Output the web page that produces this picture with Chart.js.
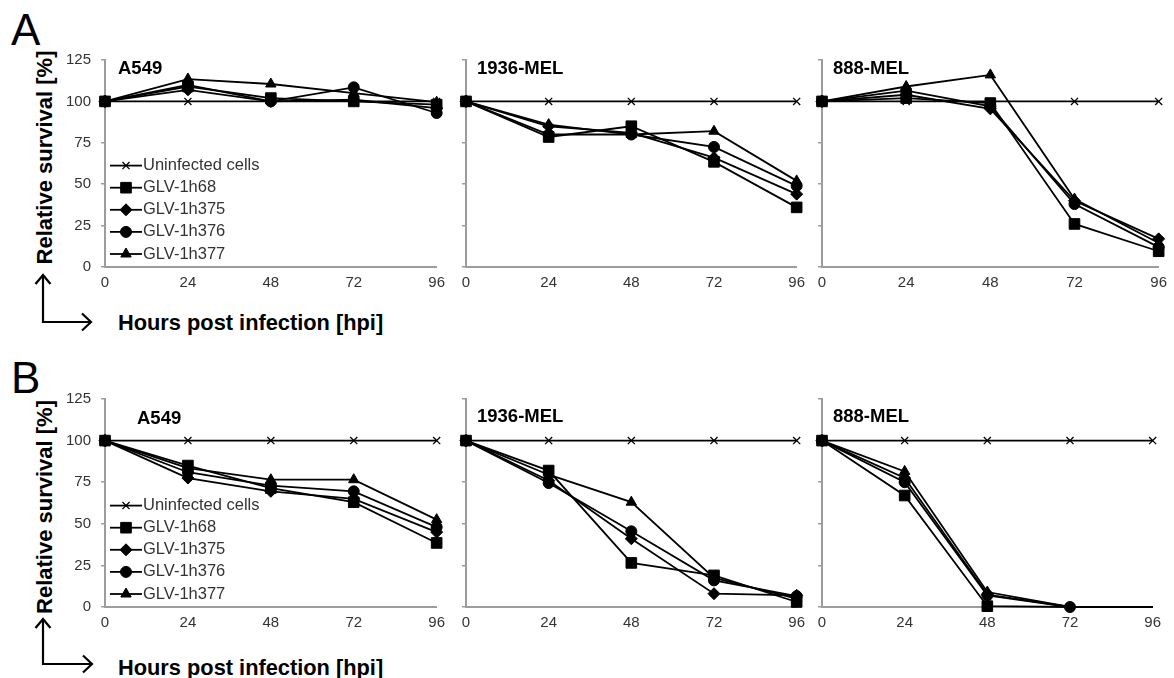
<!DOCTYPE html>
<html>
<head>
<meta charset="utf-8">
<script src="https://cdn.jsdelivr.net/npm/chart.js@4.4.1/dist/chart.umd.min.js"></script>
<style>
  html, body { margin: 0; padding: 0; background: #fff; }
  #figure { position: relative; width: 1174px; height: 678px; overflow: hidden; }
  #figure canvas { position: absolute; }
  #overlay { position: absolute; left: 0; top: 0; }
</style>
</head>
<body>
<div id="figure">
  <svg id="overlay" width="1174" height="678" font-family="'Liberation Sans', Arial, sans-serif">
    <text x="11" y="45" font-size="44">A</text>
    <text x="11" y="393" font-size="44">B</text>
    <text transform="translate(52,157.5) rotate(-90)" text-anchor="middle" font-size="22" font-weight="bold">Relative survival [%]</text>
    <text transform="translate(52,507) rotate(-90)" text-anchor="middle" font-size="22" font-weight="bold">Relative survival [%]</text>
    <text x="118" y="330" font-size="21.8" font-weight="bold">Hours post infection [hpi]</text>
    <text x="118" y="675" font-size="21.8" font-weight="bold">Hours post infection [hpi]</text>
    <g fill="none" stroke="#000" stroke-width="2.2">
      <path d="M43 276 V322 H90"/>
      <path d="M35.5 284 L43 275 L50.5 284"/>
      <path d="M82 313.5 L91 322 L82 330.5"/>
      <path d="M43 620 V664 H91"/>
      <path d="M35.5 628 L43 619 L50.5 628"/>
      <path d="M83 655.5 L92 664 L83 672.5"/>
    </g>
  </svg>
</div>
<script>
// time points and series
const hours = [0, 24, 48, 72, 96];
const seriesNames = ['Uninfected cells', 'GLV-1h68', 'GLV-1h375', 'GLV-1h376', 'GLV-1h377'];
const cellLines = ['A549', '1936-MEL', '888-MEL'];
const yTicks = [0, 25, 50, 75, 100, 125];

// figure A (one row per series, same order as seriesNames)
const a549A = [
  [100, 100, 100, 100, 100],
  [100, 109, 102, 100, 98],
  [100, 107, 100, 101, 96],
  [100, 110, 100, 108.5, 93],
  [100, 113.5, 110.5, 105, 99.5],
];
const mel1936A = [
  [100, 100, 100, 100, 100],
  [100, 78.5, 85, 63.5, 36],
  [100, 85, 81, 66, 44],
  [100, 80, 80, 72.5, 49],
  [100, 86, 80, 82, 52],
];
const mel888A = [
  [100, 100, 100, 100, 100],
  [100, 102, 99, 26, 9.5],
  [100, 104, 95.5, 40, 17],
  [100, 106.5, 97, 38, 12],
  [100, 109, 116, 41, 14.5],
];

// figure B
const a549B = [
  [100, 100, 100, 100, 100],
  [100, 85, 71.5, 63, 38.5],
  [100, 77.5, 69.5, 65, 45],
  [100, 81, 73, 69.5, 48],
  [100, 83.5, 76.5, 76.5, 52.5],
];
const mel1936B = [
  [100, 100, 100, 100, 100],
  [100, 82, 26.5, 19, 3],
  [100, 76, 41, 8, 7],
  [100, 74.5, 45.5, 16, 6.5],
  [100, 79.5, 63, 17.5, 5],
];
const mel888B = [
  [100, 100, 100, 100, 100],
  [100, 67, 0.5, 0, 0],
  [100, 77.5, 7.5, 0, 0],
  [100, 75, 7, 0, 0],
  [100, 81.5, 9, 0, 0],
];

const FONT = "'Liberation Sans', Arial, sans-serif";
const axisGray = '#9c9c9c';
const textGray = '#333';

Chart.defaults.font.family = FONT;
Chart.defaults.font.size = 15;
Chart.defaults.color = textGray;

const markers = [
  { style: 'crossRot', radius: 5, border: 1.3 },
  { style: 'rect', radius: 7.5, border: 1 },
  { style: 'rectRot', radius: 6, border: 1 },
  { style: 'circle', radius: 5.5, border: 1 },
  { style: 'triangle', radius: 6, border: 1 },
];

// frame of each panel on the page (plot area edges)
const panels = [
  { values: a549A, title: cellLines[0], left: 105, right: 439, top: 53, bottom: 267, labels: true, legend: true, titleDx: 13, titleDy: 9, padRight: 13 },
  { values: mel1936A, title: cellLines[1], left: 466, right: 799, top: 53, bottom: 267, titleDx: 11, titleDy: 9, padRight: 13 },
  { values: mel888A, title: cellLines[2], left: 822, right: 1164, top: 53, bottom: 267, titleDx: 11, titleDy: 9, padRight: 10 },
  { values: a549B, title: cellLines[0], left: 105, right: 439, top: 392, bottom: 607, labels: true, legend: true, titleDx: 32, titleDy: 20, padRight: 13 },
  { values: mel1936B, title: cellLines[1], left: 466, right: 799, top: 392, bottom: 607, titleDx: 11, titleDy: 18, padRight: 13 },
  { values: mel888B, title: cellLines[2], left: 822, right: 1156, top: 392, bottom: 607, titleDx: 11, titleDy: 18, padRight: 12,
    bare: [[1, 3], [2, 3], [4, 3], [1, 4], [2, 4], [3, 4], [4, 4]] },
];

const panelTitle = {
  id: 'panelTitle',
  afterDraw(chart, args, opts) {
    const { ctx, chartArea } = chart;
    ctx.save();
    ctx.font = 'bold 18.5px ' + FONT;
    ctx.fillStyle = '#000';
    ctx.textBaseline = 'middle';
    ctx.fillText(opts.text, chartArea.left + opts.dx, chartArea.top + opts.dy);
    ctx.restore();
  }
};

const insideLegend = {
  id: 'insideLegend',
  afterDatasetsDraw(chart, args, opts) {
    if (!opts.show) return;
    const { ctx, chartArea } = chart;
    const n = chart.data.datasets.length;
    ctx.save();
    chart.data.datasets.forEach((ds, i) => {
      const y = chartArea.bottom - 13 - 22.1 * (n - 1 - i);
      const x0 = chartArea.left + 5;
      const x1 = chartArea.left + 37;
      ctx.strokeStyle = '#000';
      ctx.lineWidth = 1.8;
      ctx.beginPath();
      ctx.moveTo(x0, y);
      ctx.lineTo(x1, y);
      ctx.stroke();
      const m = markers[i];
      ctx.fillStyle = '#000';
      ctx.lineWidth = m.border;
      Chart.helpers.drawPoint(ctx, { pointStyle: m.style, radius: m.radius, borderWidth: m.border, rotation: 0 }, (x0 + x1) / 2, y);
      ctx.font = '16.5px ' + FONT;
      ctx.fillStyle = textGray;
      ctx.textBaseline = 'middle';
      ctx.fillText(ds.label, x1 + 1, y);
    });
    ctx.restore();
  }
};

const fig = document.getElementById('figure');
const padTop = 12;
const xAxisHeight = 30;

panels.forEach(p => {
  const yW = p.labels ? 45 : 12;
  const w = p.right - p.left + yW + p.padRight;
  const h = p.bottom - p.top + padTop + xAxisHeight;
  const canvas = document.createElement('canvas');
  canvas.width = w;
  canvas.height = h;
  canvas.style.left = (p.left - yW) + 'px';
  canvas.style.top = (p.top - padTop) + 'px';
  canvas.style.width = w + 'px';
  canvas.style.height = h + 'px';
  fig.appendChild(canvas);

  const isBare = (s, k) => (p.bare || []).some(b => b[0] === s && b[1] === k);

  new Chart(canvas, {
    type: 'line',
    data: {
      labels: hours,
      datasets: p.values.map((vals, i) => ({
        label: seriesNames[i],
        data: vals,
        borderColor: '#000',
        borderWidth: 1.8,
        tension: 0,
        clip: false,
        pointStyle: markers[i].style,
        pointRadius: ctx => isBare(i, ctx.dataIndex) ? 0 : markers[i].radius,
        pointBorderWidth: markers[i].border,
        pointBackgroundColor: '#000',
        pointBorderColor: '#000',
      })),
    },
    options: {
      responsive: false,
      animation: false,
      events: [],
      layout: { padding: { left: 0, top: padTop, right: p.padRight, bottom: 0 } },
      plugins: {
        legend: { display: false },
        tooltip: { enabled: false },
        panelTitle: { text: p.title, dx: p.titleDx, dy: p.titleDy },
        insideLegend: { show: !!p.legend },
      },
      scales: {
        x: {
          offset: false,
          grid: { drawOnChartArea: false, drawTicks: false, offset: false },
          border: { color: axisGray, width: 2 },
          ticks: { padding: 7, maxRotation: 0, autoSkip: false, color: textGray },
          afterFit: s => { s.height = xAxisHeight; },
        },
        y: {
          min: yTicks[0],
          max: yTicks[yTicks.length - 1],
          ticks: { stepSize: 25, padding: 10, color: textGray, callback: v => p.labels ? v : '' },
          grid: { drawOnChartArea: false, tickLength: 4, color: axisGray, lineWidth: 1.5 },
          border: { color: axisGray, width: 2 },
          afterFit: s => { s.width = yW; },
        },
      },
    },
    plugins: [panelTitle, insideLegend],
  });
});
</script>
</body>
</html>
